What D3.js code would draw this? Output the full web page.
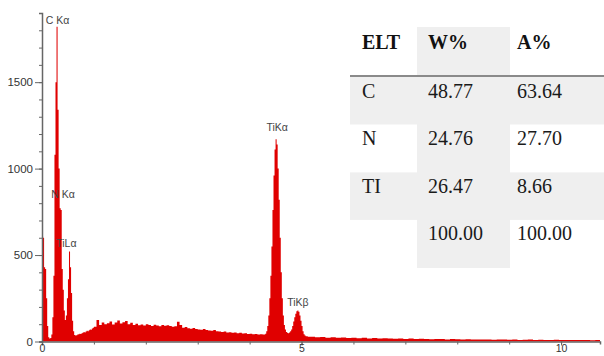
<!DOCTYPE html>
<html><head><meta charset="utf-8">
<script src="https://cdn.jsdelivr.net/npm/d3@7/dist/d3.min.js"></script>
<style>html,body{margin:0;padding:0;background:#fff;}svg{display:block;}</style>
</head><body>
<svg id="c" width="604" height="356"></svg>
<script>
// ---- DATA ----
// spectrum segments: energy start (keV), step (keV), counts
const seg1Start = 0.00, seg1Step = 0.02;
const seg1Counts = [610,600,430,420,250,90,25,18,20,40,140,380,1080,1500,1820,1340,1000,770,760,420,
  300,180,125,150,250,360,520,430,280,120,60,38,35,36,40,42,45,44,48,50,55,52,58,62,60,65,70,68,75,80];
const seg2Start = 1.00, seg2Step = 0.05;
const seg2Counts = [85,125,95,110,100,105,115,98,110,122,104,112,118,100,108,96,102,94,98,92,
  100,95,90,97,93,88,96,91,94,90,86,88,114,95,80,84,76,74,78,72,70,68,72,66,64,62,66,60,58,55,
  58,52,54,50,52,48,50,46,47,44,45,42,44,40,42,41];
const seg3Start = 4.30, seg3Step = 0.02;
const seg3Counts = [45,60,90,150,250,380,550,760,960,1110,1170,1140,1000,820,600,400,250,150,95,70,
  55,50,48,52,60,70,90,115,140,160,175,180,172,150,120,90,60,42,35,30,30,28,27];
const seg4Start = 5.16, seg4Step = 0.1;
const seg4Counts = [27,25,26,22,24,21,23,20,22,19,21,18,20,17,19,18,16,18,15,17,
  14,16,15,13,15,14,12,14,13,12,13,11,12,11,12,10,11,12,10,11,9,10,11,9,10,9,8,10,9,8,9,8,9,8,7,8];

const yTicksMajor = [0, 500, 1000, 1500];
const xTicksMajor = [0, 5, 10];

const peakNames  = ["C K\u03B1", "N K\u03B1", "TiL\u03B1", "TiK\u03B1", "TiK\u03B2"];
const peakEnergy = [0.30, 0.405, 0.47, 4.53, 4.93];
const peakLevel  = [1860, 852, 569, 1240, 228];

const tableHeader = ["ELT", "W%", "A%"];
const tableElt = ["C", "N", "TI", ""];
const tableW   = ["48.77", "24.76", "26.47", "100.00"];
const tableA   = ["63.64", "27.70", "8.66", "100.00"];

// ---- BUILD ----
const spectrum = [];
[[seg1Start,seg1Step,seg1Counts],[seg2Start,seg2Step,seg2Counts],[seg3Start,seg3Step,seg3Counts],[seg4Start,seg4Step,seg4Counts]]
  .forEach(([s,st,c]) => c.forEach((v,i) => spectrum.push({e: +(s + i*st).toFixed(3), c: v})));
spectrum.push({e: 10.75, c: 8});

const svg = d3.select("#c");
const x = d3.scaleLinear().domain([0, 10.75]).range([42, 600]);
const y = d3.scaleLinear().domain([0, 1900]).range([341.5, 13]);

// table backgrounds
const tg = svg.append("g");
const gray = "#efefef";
tg.append("rect").attr("x",417).attr("y",27).attr("width",93).attr("height",241).attr("fill",gray);
[0,2].forEach(r => tg.append("rect").attr("x",350).attr("y",77 + r*47.7).attr("width",254).attr("height",47.5).attr("fill",gray));
tg.append("line").attr("x1",350).attr("x2",604).attr("y1",76).attr("y2",76).attr("stroke","#8a8a8a").attr("stroke-width",2);

const colX = [362, 428, 517];
tg.selectAll("text.h").data(tableHeader).join("text").attr("class","h")
  .attr("x",(d,i)=>colX[i]).attr("y",42).attr("dy","0.35em")
  .attr("font-family","'Liberation Serif','Times New Roman',serif").attr("font-weight","bold")
  .attr("font-size",20).attr("fill","#111").text(d=>d);
const rows = tableElt.map((e,i)=>[e, tableW[i], tableA[i]]);
rows.forEach((r,ri) => {
  r.forEach((t,ci) => {
    tg.append("text").attr("x",colX[ci]).attr("y",90.5 + ri*47.6).attr("dy","0.35em")
      .attr("font-family","'Liberation Serif','Times New Roman',serif")
      .attr("font-size",20).attr("fill","#1a1a1a").text(t);
  });
});

// spectrum area
const area = d3.area().x(d=>x(d.e)).y0(y(0)).y1(d=>y(d.c)).curve(d3.curveStepAfter);
svg.append("path").datum(spectrum).attr("d",area).attr("fill","#e00000");

// axes
const axColor = "#666";
const yAxis = svg.append("g").attr("transform",`translate(${x(0)},0)`)
  .call(d3.axisLeft(y).tickValues(d3.range(0,1901,100)).tickSize(3).tickFormat(""));
yAxis.select(".domain").attr("stroke",axColor).attr("stroke-width",1.5);
yAxis.selectAll(".tick line").attr("stroke",axColor);
const yMaj = svg.append("g").attr("transform",`translate(${x(0)},0)`)
  .call(d3.axisLeft(y).tickValues(yTicksMajor).tickSize(7).tickPadding(2).tickFormat(d3.format("d")));
yMaj.select(".domain").remove();
yMaj.selectAll(".tick line").attr("stroke",axColor);
yMaj.selectAll("text").attr("font-family","'Liberation Sans',Arial,sans-serif").attr("font-size",11.5).attr("fill","#333");

const xAxis = svg.append("g").attr("transform",`translate(0,${y(0)})`)
  .call(d3.axisBottom(x).tickValues(d3.range(0,11,1)).tickSize(3).tickFormat(""));
xAxis.select(".domain").attr("stroke",axColor).attr("stroke-width",1.5);
xAxis.selectAll(".tick line").attr("stroke",axColor);
const xMaj = svg.append("g").attr("transform",`translate(0,${y(0)})`)
  .call(d3.axisBottom(x).tickValues(xTicksMajor).tickSize(4).tickPadding(0).tickFormat(d3.format("d")));
xMaj.select(".domain").remove();
xMaj.selectAll(".tick line").attr("stroke",axColor);
xMaj.selectAll("text").attr("font-family","'Liberation Sans',Arial,sans-serif").attr("font-size",10.5).attr("fill","#333").attr("dy","0.65em");

// peak labels
svg.selectAll("text.pk").data(peakNames).join("text").attr("class","pk")
  .attr("x",(d,i)=>x(peakEnergy[i])).attr("y",(d,i)=>y(peakLevel[i])).attr("dy","0.35em")
  .attr("text-anchor","middle").attr("font-family","'Liberation Sans',Arial,sans-serif")
  .attr("font-size",10.5).attr("fill","#444").text(d=>d);
</script>
</body></html>
